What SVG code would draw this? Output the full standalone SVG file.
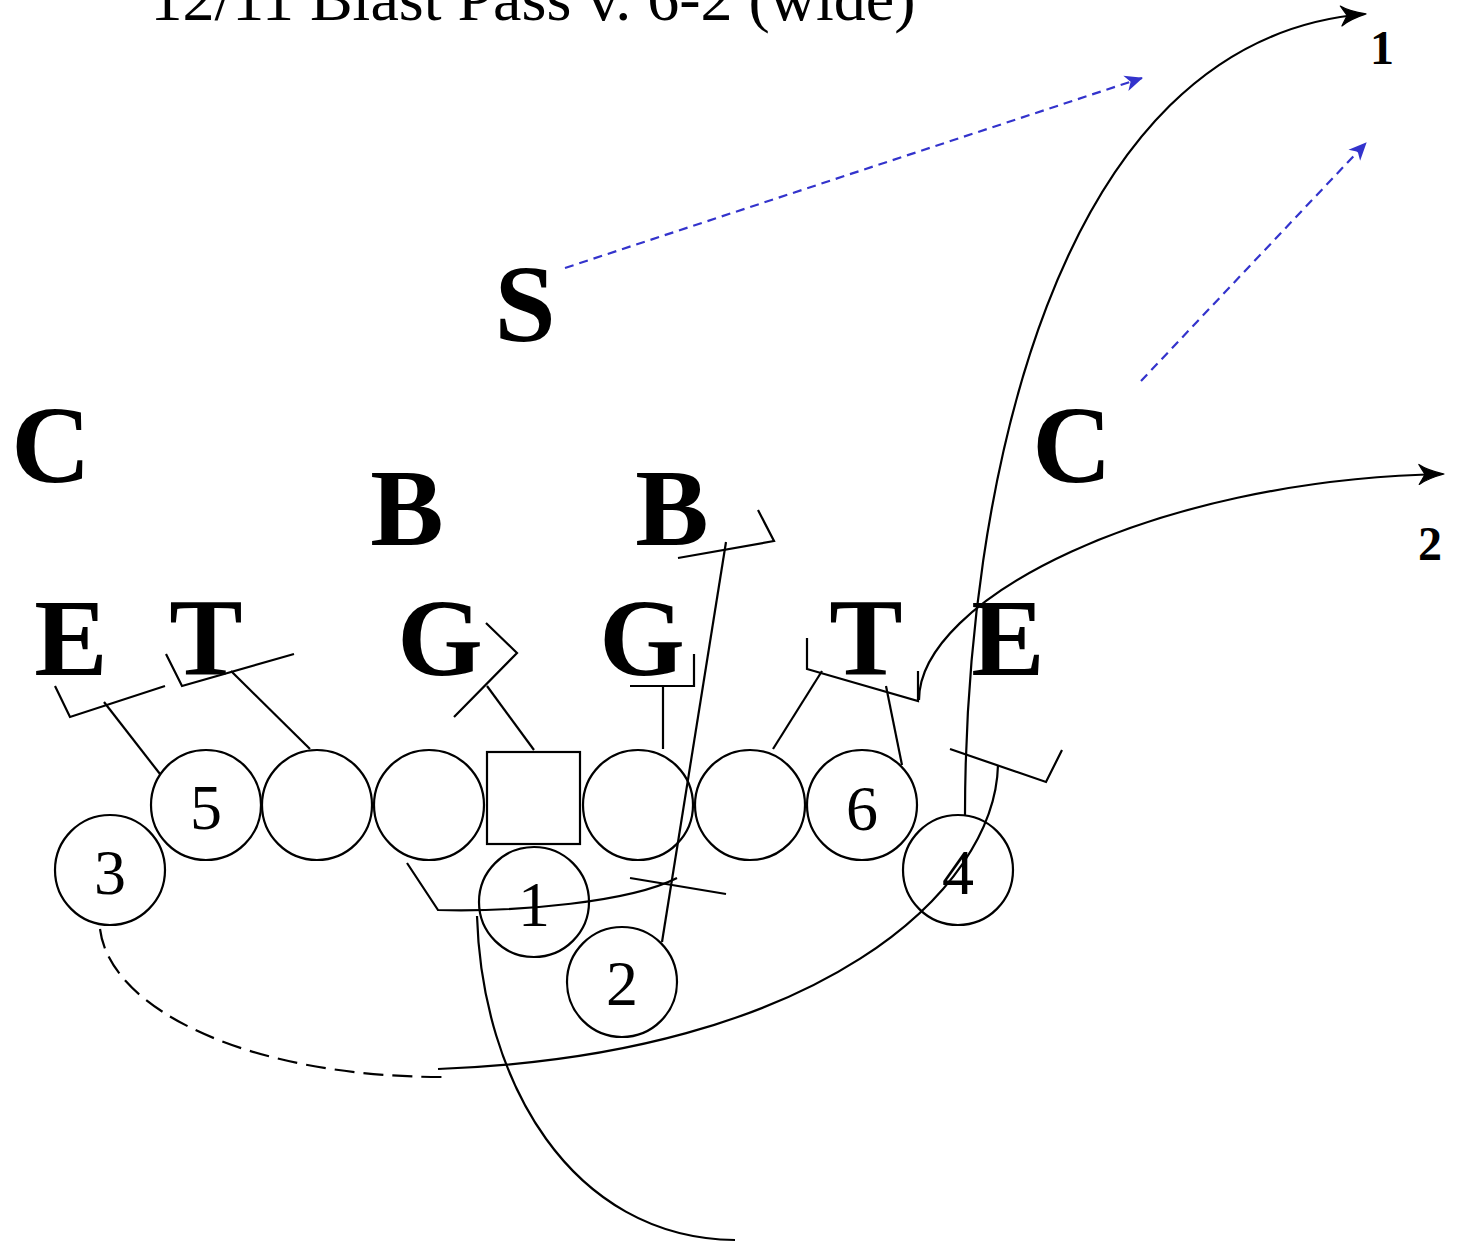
<svg xmlns="http://www.w3.org/2000/svg" width="1459" height="1245" viewBox="0 0 1459 1245">
<style>
.bg{fill:#fff}
.pl{fill:none;stroke:#000;stroke-width:2.2}
.num{font-family:"Liberation Serif","Times New Roman",serif;font-size:64px;text-anchor:middle;fill:#000}
.def{font-family:"Liberation Serif","Times New Roman",serif;font-size:110px;font-weight:bold;text-anchor:middle;fill:#000}
.rt{font-family:"Liberation Serif","Times New Roman",serif;font-size:48px;font-weight:bold;text-anchor:middle;fill:#000}
.ttl{font-family:"Liberation Serif","Times New Roman",serif;font-size:64px;text-anchor:middle;fill:#000}
.ln{fill:none;stroke:#000;stroke-width:2.2}
.arr{fill:none;stroke:#000;stroke-width:2.2;marker-end:url(#ah)}
.blue{fill:none;stroke:#3333cc;stroke-width:2.2;stroke-dasharray:9,6;marker-end:url(#bh)}
.dash{fill:none;stroke:#000;stroke-width:2.2;stroke-dasharray:20,9}
</style>
<defs>
<marker id="ah" markerUnits="userSpaceOnUse" orient="auto" markerWidth="40" markerHeight="30" viewBox="-30 -15 40 30" refX="0" refY="0">
<path d="M1,0 C-7,-2 -17,-5 -24,-10 C-21,-5 -19,-2 -18,0 C-19,2 -21,5 -24,10 C-17,5 -7,2 1,0 Z" fill="#000" stroke="#000" stroke-width="1.2" stroke-linejoin="round"/>
</marker>
<marker id="bh" markerUnits="userSpaceOnUse" orient="auto" markerWidth="30" markerHeight="30" viewBox="-20 -15 30 30" refX="0" refY="0">
<path d="M1,0 L-17,-8 L-12,0 L-17,8 Z" fill="#3333cc"/>
</marker>
</defs>
<rect class="bg" x="0" y="0" width="1459" height="1245"/>
<text class="ttl" x="533" y="20">12/11 Blast Pass v. 6-2 (wide)</text>

<g id="connectors">
<path class="ln" d="M55,686 L70,717 L165,686"/>
<path class="ln" d="M160,774 L104,702"/>
<path class="ln" d="M166,654 L182,686 L294,654"/>
<path class="ln" d="M310,749 L231,671"/>
<path class="ln" d="M486,623 L517,653 L454,717"/>
<path class="ln" d="M534,750 L487,686"/>
<path class="ln" d="M630,686 L694,686 L694,654"/>
<path class="ln" d="M663,686 L663,749"/>
<path class="ln" d="M407,863 L438,910 C520,912 630,902 677,878"/>
<path class="ln" d="M630,878 L726,894"/>
<path class="ln" d="M662,942 L726,542"/>
<path class="ln" d="M678,558 L774,541 L758,510"/>
<path class="ln" d="M807,638 L807,669 L918,701 L918,671"/>
<path class="ln" d="M773,749 L822,671"/>
<path class="ln" d="M902,765 L886,686"/>
<path class="ln" d="M950,749 L1046,782 L1062,750"/>
<path class="arr" d="M919,700 C919,600 1150,480 1443,474"/>
<path class="arr" d="M965,815 C965,500 1050,40 1365,14"/>
<path class="ln" d="M998,765 C995,890 820,1055 438,1069"/>
<path class="dash" d="M100,929 C110,1010 250,1077 442,1077"/>
<path class="ln" d="M477,916 C482,1080 570,1238 735,1240"/>
<path class="blue" d="M565,268 L1142,78"/>
<path class="blue" d="M1141,381 L1366,143"/>
</g>

<g id="off-lt"><circle class="pl" cx="206" cy="805" r="55"/><text class="num" x="206" y="829">5</text></g>
<g id="off-lg"><circle class="pl" cx="317" cy="805" r="55"/></g>
<g id="off-c2"><circle class="pl" cx="429" cy="805" r="55"/></g>
<g id="off-center"><rect class="pl" x="487" y="752" width="93" height="92"/></g>
<g id="off-rg"><circle class="pl" cx="638" cy="805" r="55"/></g>
<g id="off-rt"><circle class="pl" cx="750" cy="805" r="55"/></g>
<g id="off-6"><circle class="pl" cx="862" cy="805" r="55"/><text class="num" x="862" y="830">6</text></g>
<g id="off-3"><circle class="pl" cx="110" cy="870" r="55"/><text class="num" x="110" y="894">3</text></g>
<g id="off-1"><circle class="pl" cx="534" cy="902" r="55"/><text class="num" x="534" y="926">1</text></g>
<g id="off-2"><circle class="pl" cx="622" cy="982" r="55"/><text class="num" x="622" y="1005">2</text></g>
<g id="off-4"><circle class="pl" cx="958" cy="870" r="55"/><text class="num" x="958" y="894">4</text></g>

<g id="def-s"><text class="def" x="525" y="341">S</text></g>
<g id="def-cl"><text class="def" x="51" y="482">C</text></g>
<g id="def-cr"><text class="def" x="1072" y="482">C</text></g>
<g id="def-bl"><text class="def" x="407" y="545">B</text></g>
<g id="def-br"><text class="def" x="672" y="545">B</text></g>
<g id="def-el"><text class="def" x="71" y="675">E</text></g>
<g id="def-tl"><text class="def" x="206" y="675">T</text></g>
<g id="def-gl"><text class="def" x="440" y="675">G</text></g>
<g id="def-gr"><text class="def" x="642" y="675">G</text></g>
<g id="def-tr"><text class="def" x="866" y="675">T</text></g>
<g id="def-er"><text class="def" x="1008" y="675">E</text></g>

<g id="label-1"><text class="rt" x="1382" y="64">1</text></g>
<g id="label-2"><text class="rt" x="1430" y="560">2</text></g>
</svg>
